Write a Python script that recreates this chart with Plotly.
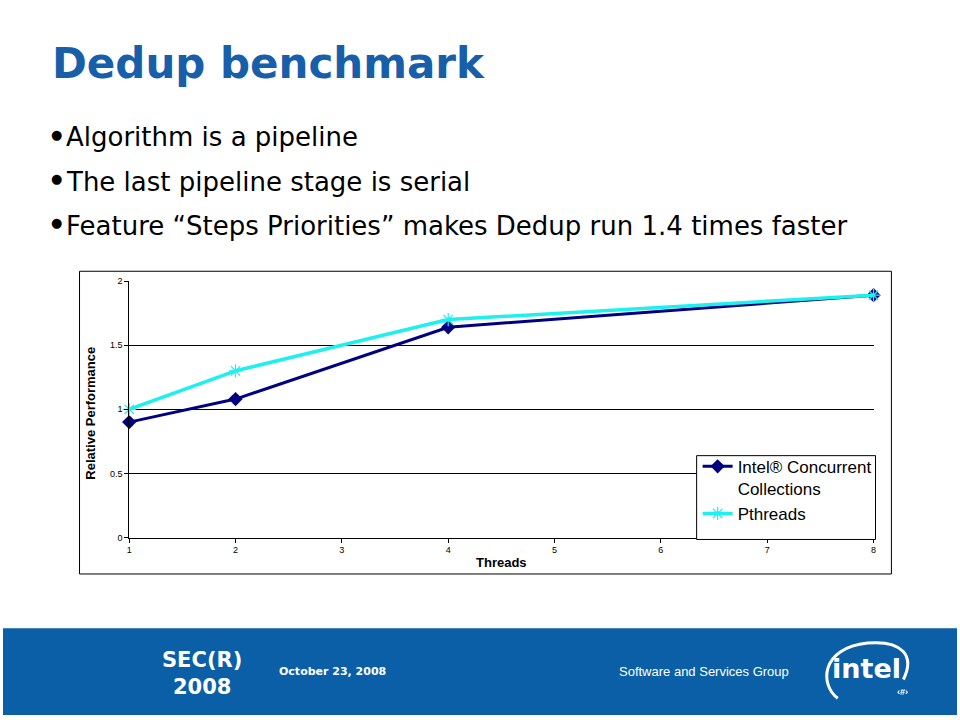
import plotly.graph_objects as go

threads = [1, 2, 4, 8]
icc = [0.90, 1.08, 1.64, 1.89]
pthreads = [1.00, 1.30, 1.70, 1.89]
x_ticks = [1, 2, 3, 4, 5, 6, 7, 8]
y_ticks = [0, 0.5, 1, 1.5, 2]
y_tick_labels = ["0", "0.5", "1", "1.5", "2"]
bullets = [
    "Algorithm is a pipeline",
    "The last pipeline stage is serial",
    "Feature \u201cSteps Priorities\u201d makes Dedup run 1.4 times faster",
]

W, H = 960, 720
def px(x): return x / W
def py(y): return 1 - y / H

fig = go.Figure()
fig.add_trace(go.Scatter(
    x=threads, y=icc, mode="lines+markers", name="Intel\u00ae Concurrent<br>Collections",
    line=dict(color="#000080", width=3), cliponaxis=False,
    marker=dict(symbol="diamond", size=11, color="#000080"),
))
fig.add_trace(go.Scatter(
    x=threads, y=pthreads, mode="lines+markers", name="Pthreads",
    line=dict(color="#1ef0f0", width=3.5), cliponaxis=False,
    marker=dict(symbol="asterisk-open", size=11, line=dict(color="#1ef0f0", width=1.2)),
))

shapes = [
    dict(type="rect", xref="paper", yref="paper", x0=px(77), x1=px(894), y0=py(577), y1=py(270),
         fillcolor="white", line=dict(color="black", width=1), layer="below"),
    dict(type="rect", xref="paper", yref="paper", x0=px(698), x1=px(878), y0=py(542), y1=py(457),
         fillcolor="white", line=dict(color="black", width=1), layer="above"),
    dict(type="rect", xref="paper", yref="paper", x0=0, x1=1, y0=0, y1=py(632),
         fillcolor="#0b5fa7", line=dict(width=0), layer="below"),
    dict(type="path", xref="paper", yref="paper",
         path=f"M {px(840)},{py(703)} C {px(822)},{py(690)} {px(822)},{py(652)} {px(870)},{py(647)} "
              f"C {px(905)},{py(644)} {px(918)},{py(660)} {px(906)},{py(684)}",
         line=dict(color="white", width=3)),
]

def ann(text, x, y, size, color="black", family="Liberation Sans", xanchor="center", **kw):
    return dict(text=text, x=px(x), y=py(y), xref="paper", yref="paper",
                xanchor=xanchor, yanchor="middle", showarrow=False,
                font=dict(family=family, size=size, color=color), **kw)

annotations = [
    ann("<b>Dedup benchmark</b>", 47, 59, 42, "#1760a9", "DejaVu Sans", "left"),
    ann("<b>Relative Performance</b>", 88, 414, 13, textangle=-90),
    ann("<b>Threads</b>", 502, 565, 13),
    ann("<b>SEC(R)</b>", 200, 664, 21, "white", "DejaVu Sans"),
    ann("<b>2008</b>", 200, 692, 21, "white", "DejaVu Sans"),
    ann("<b>October 23, 2008</b>", 276, 676, 11, "white", "DejaVu Sans", "left"),
    ann("Software and Services Group", 793, 676, 13, "white", "Liberation Sans", "right"),
    ann("<b>intel</b>", 869, 673, 27, "white", "DejaVu Sans"),
    ann("<b>\u2039#\u203a</b>", 905, 697, 9, "white"),
]
for i, b in enumerate(bullets):
    yy = 134 + i * 45
    annotations.append(ann("\u25cf", 46, yy - 3, 13, family="DejaVu Sans", xanchor="left"))
    annotations.append(ann(b, 61, yy, 26, family="DejaVu Sans", xanchor="left"))

fig.update_layout(
    width=W, height=H, margin=dict(l=0, r=0, t=0, b=0),
    paper_bgcolor="white", plot_bgcolor="#c0c0c0",
    shapes=shapes, annotations=annotations,
    legend=dict(x=px(699), y=py(450), xanchor="left", yanchor="top",
                bgcolor="rgba(0,0,0,0)", borderwidth=0, valign="top",
                font=dict(family="Liberation Sans", size=17, color="black"),
                itemwidth=30, tracegroupgap=0),
    xaxis=dict(domain=[px(127), px(876)], range=[1, 8], tickvals=x_ticks,
               showgrid=False, zeroline=False, showline=True, linecolor="black", linewidth=1,
               ticks="outside", ticklen=4, tickcolor="black",
               tickfont=dict(family="Liberation Sans", size=9, color="black")),
    yaxis=dict(domain=[py(540), py(280)], range=[0, 2], tickvals=y_ticks, ticktext=y_tick_labels,
               showgrid=True, gridcolor="black", gridwidth=1, zeroline=False,
               showline=True, linecolor="black", linewidth=1,
               ticks="outside", ticklen=4, tickcolor="black",
               tickfont=dict(family="Liberation Sans", size=9, color="black")),
)
css_js = (
    "var s=document.createElement('style');"
    "s.textContent='html,body{margin:0;padding:0;overflow:hidden;}';"
    "document.head.appendChild(s);"
)
fig.write_html("out.html", config={"displayModeBar": False}, post_script=css_js)
